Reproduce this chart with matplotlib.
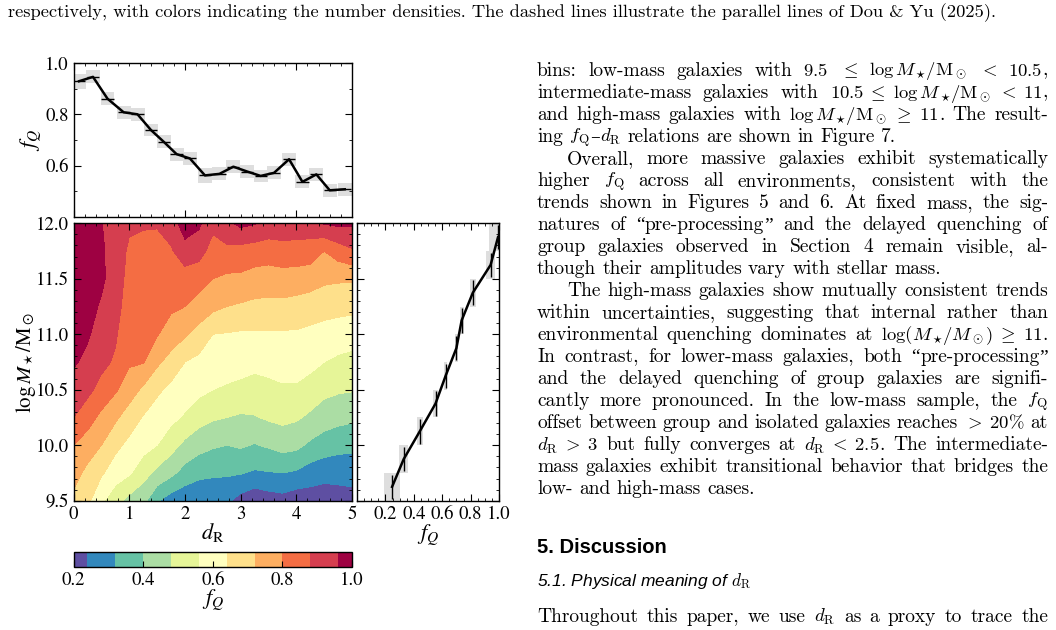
import re
import matplotlib
matplotlib.use("Agg")
import matplotlib.pyplot as plt
import matplotlib.transforms as mtransforms
import matplotlib.cm as mcm
from matplotlib.colors import ListedColormap, BoundaryNorm
from matplotlib.ticker import MultipleLocator, FormatStrFormatter

# ---- data ----
DR_GRID = [0.0, 0.25, 0.5, 0.75, 1.0, 1.25, 1.5, 1.75, 2.0, 2.25, 2.5,
           2.75, 3.0, 3.25, 3.5, 3.75, 4.0, 4.25, 4.5, 4.75, 5.0]
LOGM_GRID = [9.5, 9.75, 10.0, 10.25, 10.5, 10.75, 11.0, 11.25, 11.5, 11.75, 12.0]
FQ_MAP = [
    [0.70, 0.66, 0.575, 0.51, 0.455, 0.425, 0.33, 0.28, 0.26, 0.26, 0.27, 0.255, 0.21, 0.18, 0.20, 0.21, 0.19, 0.20, 0.19, 0.20, 0.21],
    [0.75, 0.70, 0.65, 0.60, 0.57, 0.51, 0.46, 0.42, 0.37, 0.34, 0.33, 0.33, 0.325, 0.31, 0.315, 0.32, 0.31, 0.28, 0.27, 0.27, 0.27],
    [0.80, 0.76, 0.72, 0.66, 0.62, 0.59, 0.56, 0.51, 0.46, 0.43, 0.41, 0.40, 0.41, 0.395, 0.41, 0.43, 0.42, 0.385, 0.36, 0.345, 0.34],
    [0.88, 0.835, 0.78, 0.735, 0.68, 0.635, 0.60, 0.58, 0.55, 0.51, 0.49, 0.48, 0.47, 0.475, 0.49, 0.50, 0.49, 0.465, 0.44, 0.425, 0.415],
    [0.925, 0.90, 0.855, 0.81, 0.76, 0.705, 0.655, 0.62, 0.60, 0.58, 0.56, 0.55, 0.54, 0.53, 0.54, 0.55, 0.55, 0.53, 0.50, 0.49, 0.485],
    [0.97, 0.94, 0.90, 0.87, 0.81, 0.805, 0.735, 0.69, 0.64, 0.62, 0.60, 0.595, 0.59, 0.58, 0.585, 0.59, 0.59, 0.58, 0.56, 0.545, 0.535],
    [0.99, 0.97, 0.924, 0.89, 0.825, 0.82, 0.805, 0.765, 0.73, 0.69, 0.64, 0.635, 0.63, 0.63, 0.63, 0.63, 0.63, 0.62, 0.61, 0.60, 0.595],
    [1.0, 0.99, 0.95, 0.91, 0.84, 0.835, 0.82, 0.813, 0.80, 0.77, 0.74, 0.72, 0.71, 0.70, 0.70, 0.70, 0.69, 0.68, 0.67, 0.665, 0.66],
    [1.0, 1.0, 0.975, 0.92, 0.855, 0.85, 0.84, 0.84, 0.84, 0.83, 0.80, 0.785, 0.785, 0.77, 0.76, 0.765, 0.765, 0.755, 0.735, 0.73, 0.73],
    [1.0, 1.0, 0.975, 0.915, 0.87, 0.865, 0.86, 0.87, 0.93, 0.91, 0.85, 0.86, 0.85, 0.84, 0.84, 0.85, 0.845, 0.84, 0.80, 0.84, 0.87],
    [1.0, 1.0, 0.965, 0.885, 0.89, 0.885, 0.885, 0.92, 1.0, 0.975, 0.90, 0.94, 0.98, 0.965, 0.93, 0.93, 0.93, 0.93, 0.965, 0.975, 0.97],
]

# f_Q vs d_R (top panel)
DR_BIN = [0.10, 0.35, 0.61, 0.90, 1.15, 1.39, 1.62, 1.85, 2.09, 2.36,
          2.62, 2.87, 3.12, 3.36, 3.60, 3.87, 4.11, 4.36, 4.60, 4.87]
FQ_DR = [0.929, 0.946, 0.861, 0.808, 0.800, 0.739, 0.693, 0.645, 0.628, 0.562,
         0.568, 0.596, 0.577, 0.560, 0.572, 0.625, 0.537, 0.566, 0.504, 0.508]
FQ_DR_ERR = [0.03, 0.025, 0.025, 0.025, 0.025, 0.025, 0.025, 0.025, 0.025, 0.03,
             0.025, 0.025, 0.025, 0.025, 0.025, 0.025, 0.025, 0.025, 0.025, 0.025]

# f_Q vs stellar mass (side panel)
LOGM_BIN = [9.625, 9.875, 10.125, 10.375, 10.625, 10.875, 11.125, 11.375, 11.625, 11.875]
FQ_M = [0.247, 0.329, 0.442, 0.553, 0.624, 0.700, 0.737, 0.816, 0.941, 0.993]
FQ_M_ERR = [0.055, 0.033, 0.02, 0.015, 0.013, 0.013, 0.015, 0.022, 0.032, 0.06]

LEVELS = [0.2, 0.24, 0.32, 0.40, 0.48, 0.56, 0.64, 0.72, 0.80, 0.88, 0.96, 1.0]
COLORS = ["#5e4fa2", "#3288bd", "#66c2a5", "#abdda4", "#e6f598", "#ffffbf",
          "#fee08b", "#fdae61", "#f46d43", "#d53e4f", "#9e0142"]
CBAR_TICKS = [0.2, 0.4, 0.6, 0.8, 1.0]

CAPTION = ("respectively, with colors indicating the number densities. "
           "The dashed lines illustrate the parallel lines of Dou & Yu (2025).")
BODY = [  # (text, indented, justified)
    (r"bins: low-mass galaxies with $9.5$ $\leq$ $\log M_\star\!/{\rm M}_\odot$ $<$ $10.5$,", 0, 1),
    (r"intermediate-mass galaxies with $10.5 \;\leq\; \log M_\star\!/{\rm M}_\odot \;<\; 11$,", 0, 1),
    (r"and high-mass galaxies with $\log M_\star\!/{\rm M}_\odot \;\geq\; 11$. The result-", 0, 1),
    (r"ing $f_{\rm Q}$–$d_{\rm R}$ relations are shown in Figure 7.", 0, 0),
    (r"Overall, more massive galaxies exhibit systematically", 1, 1),
    (r"higher $f_{\rm Q}$ across all environments, consistent with the", 0, 1),
    (r"trends shown in Figures 5 and 6. At fixed mass, the sig-", 0, 1),
    (r"natures of “pre-processing” and the delayed quenching of", 0, 1),
    (r"group galaxies observed in Section 4 remain visible, al-", 0, 1),
    (r"though their amplitudes vary with stellar mass.", 0, 0),
    (r"The high-mass galaxies show mutually consistent trends", 1, 1),
    (r"within uncertainties, suggesting that internal rather than", 0, 1),
    (r"environmental quenching dominates at $\log(M_\star\!/M_\odot) \;\geq\; 11$.", 0, 1),
    (r"In contrast, for lower-mass galaxies, both “pre-processing”", 0, 1),
    (r"and the delayed quenching of group galaxies are signifi-", 0, 1),
    (r"cantly more pronounced. In the low-mass sample, the $f_{\rm Q}$", 0, 1),
    (r"offset between group and isolated galaxies reaches $>\; 20\%$ at", 0, 1),
    (r"$d_{\rm R} \;>\; 3$ but fully converges at $d_{\rm R} \;<\; 2.5$. The intermediate-", 0, 1),
    (r"mass galaxies exhibit transitional behavior that bridges the", 0, 1),
    (r"low- and high-mass cases.", 0, 0),
]
HEAD = "5. Discussion"
SUBHEAD = r"5.1. Physical meaning of $d_{\rm R}$"
LAST = r"Throughout this paper, we use $d_{\rm R}$ as a proxy to trace the"

# ---- style ----
W, H = 1056, 630
plt.rcParams.update({
    "font.family": "STIXGeneral", "mathtext.fontset": "stix", "font.size": 13.5,
    "xtick.direction": "in", "ytick.direction": "in", "xtick.top": True, "ytick.right": True,
    "xtick.major.size": 5, "ytick.major.size": 5, "xtick.minor.size": 2.5, "ytick.minor.size": 2.5,
    "xtick.minor.visible": True, "ytick.minor.visible": True, "axes.linewidth": 1.0,
})
GREY = "#dedede"
fig = plt.figure(figsize=(W / 100, H / 100), dpi=100)


def box(l, t, r, b):
    return [l / W, 1 - b / H, (r - l) / W, (b - t) / H]


ax_top = fig.add_axes(box(73.5, 63, 352, 217))
ax_map = fig.add_axes(box(73.5, 223.3, 352, 500.7))
ax_side = fig.add_axes(box(357, 223.3, 499, 500.7))
cax = fig.add_axes(box(73.5, 552, 352, 567))

# top panel
ax_top.bar(DR_BIN, [2 * e for e in FQ_DR_ERR], bottom=[y - e for y, e in zip(FQ_DR, FQ_DR_ERR)],
           width=0.25, color=GREY, lw=0)
ax_top.errorbar(DR_BIN, FQ_DR, xerr=0.11, fmt="none", ecolor="k", elinewidth=1.0)
ax_top.plot(DR_BIN, FQ_DR, color="k", lw=1.8)
ax_top.set_xlim(0, 5); ax_top.set_ylim(0.4, 1.0)
ax_top.set_yticks([0.6, 0.8, 1.0])
ax_top.yaxis.set_major_formatter(FormatStrFormatter("%.1f"))
ax_top.xaxis.set_minor_locator(MultipleLocator(0.2)); ax_top.yaxis.set_minor_locator(MultipleLocator(0.1))
ax_top.tick_params(labelbottom=False)
ax_top.set_ylabel(r"$f_Q$", fontsize=16, labelpad=1)

# main contour map
ax_map.contourf(DR_GRID, LOGM_GRID, FQ_MAP, levels=[0.0] + LEVELS[1:-1] + [1.1], colors=COLORS)
ax_map.set_xlim(0, 5); ax_map.set_ylim(9.5, 12.0)
ax_map.xaxis.set_major_locator(MultipleLocator(1)); ax_map.xaxis.set_minor_locator(MultipleLocator(0.2))
ax_map.yaxis.set_major_locator(MultipleLocator(0.5)); ax_map.yaxis.set_minor_locator(MultipleLocator(0.1))
ax_map.yaxis.set_major_formatter(FormatStrFormatter("%.1f"))
ax_map.set_xlabel(r"$d_{\rm R}$", fontsize=16, labelpad=-1)
ax_map.set_ylabel(r"$\log M_\star/{\rm M}_\odot$", fontsize=15, labelpad=-2)
for sp in ax_map.spines.values():
    sp.set_zorder(5)

# side panel
ax_side.barh(LOGM_BIN, [2 * e for e in FQ_M_ERR], left=[f - e for f, e in zip(FQ_M, FQ_M_ERR)],
             height=0.25, color=GREY, lw=0)
ax_side.errorbar(FQ_M, LOGM_BIN, yerr=0.11, fmt="none", ecolor="k", elinewidth=1.0)
ax_side.plot(FQ_M, LOGM_BIN, color="k", lw=1.8)
ax_side.set_xlim(0, 1.0); ax_side.set_ylim(9.5, 12.0)
ax_side.set_xticks([0.2, 0.4, 0.6, 0.8, 1.0])
ax_side.xaxis.set_major_formatter(FormatStrFormatter("%.1f"))
ax_side.xaxis.set_minor_locator(MultipleLocator(0.05))
ax_side.yaxis.set_major_locator(MultipleLocator(0.5)); ax_side.yaxis.set_minor_locator(MultipleLocator(0.1))
ax_side.tick_params(labelleft=False)
ax_side.set_xlabel(r"$f_Q$", fontsize=16, labelpad=0)

# colorbar
sm = mcm.ScalarMappable(norm=BoundaryNorm(LEVELS, len(COLORS)), cmap=ListedColormap(COLORS))
cb = fig.colorbar(sm, cax=cax, orientation="horizontal", spacing="proportional", ticks=CBAR_TICKS)
cb.ax.xaxis.set_major_formatter(FormatStrFormatter("%.1f"))
cb.ax.tick_params(direction="in", length=4, top=False, which="major")
cb.ax.minorticks_off()
cb.set_label(r"$f_Q$", fontsize=16, labelpad=-1)
cb.outline.set_linewidth(1.0)

# ---- page text ----
ID = mtransforms.IdentityTransform()
renderer = fig.canvas.get_renderer()
SERIF = ["cmr10", "DejaVu Serif"]
QUOTE_FONT = ["Liberation Serif"]
SIZE = 14.0
MATH_SCALE = 0.96


def split_words(s):
    out, cur, inm = [], "", False
    for ch in s:
        if ch == "$":
            inm = not inm
        if ch == " " and not inm:
            if cur:
                out.append(cur)
            cur = ""
        else:
            cur += ch
    if cur:
        out.append(cur)
    return out


def segments(word):
    out = []
    for i, p in enumerate(word.split("$")):
        if not p:
            continue
        if i % 2:
            out.append(("$" + p + "$", SERIF, MATH_SCALE))
        else:
            for q in re.split(r"([“”])", p):
                if q:
                    out.append((q, QUOTE_FONT if q in "“”" else SERIF, 1.0))
    return out


def put_line(s, x0, base, x1=None, size=SIZE):
    items = []
    for w in split_words(s):
        arts, wid = [], 0.0
        for sg, fam, sc in segments(w):
            t = fig.text(0, H - base, sg, transform=ID, fontsize=size * sc, va="baseline", ha="left",
                         family=fam, math_fontfamily="cm")
            arts.append((t, wid))
            wid += t.get_window_extent(renderer).width
        items.append((arts, wid))
    total = sum(w for _, w in items)
    if x1 is not None and len(items) > 1:
        gap = (x1 - x0 - total) / (len(items) - 1)
    else:
        gap = size * 0.333 * 100 / 72
    x = x0
    for arts, wid in items:
        for t, off in arts:
            t.set_x(x + off)
        x += wid + gap


# caption tail at the top of the page, scaled to its printed width
cap = fig.text(8, H - 17, CAPTION, transform=ID, fontsize=12, family=SERIF, va="baseline")
cap.set_fontsize(12 * (1000 - 8) / cap.get_window_extent(renderer).width)

X0, X1, INDENT = 537, 1048, 30
for i, (txt, ind, just) in enumerate(BODY):
    put_line(txt, X0 + INDENT * ind, 75.5 + 22.05 * i, X1 if just else None)

fig.text(X0, H - 553, HEAD, transform=ID, family="Liberation Sans", weight="bold", fontsize=14.5, va="baseline")
fig.text(X0, H - 586, SUBHEAD, transform=ID, family="Liberation Sans", style="italic", fontsize=12.5,
         math_fontfamily="cm", va="baseline")
put_line(LAST, X0, 622, X1)

fig.savefig("out.png", dpi=100)
